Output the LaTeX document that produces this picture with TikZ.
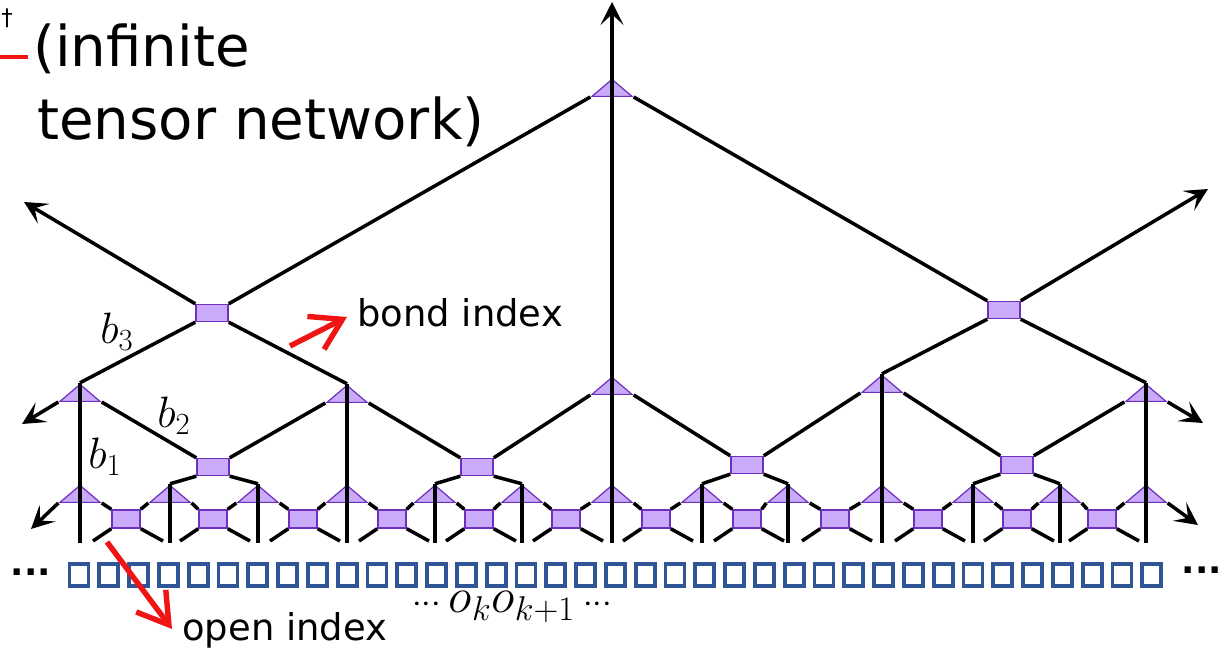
\RequirePackage{fix-cm}
\documentclass[tikz,border=0pt]{standalone}
\usepackage{fontspec}
\newfontfamily\labelfont{DejaVu Sans}
\usetikzlibrary{shapes.geometric,arrows.meta,positioning,calc}
\definecolor{tnfill}{RGB}{201,171,250}
\definecolor{tnedge}{RGB}{112,48,190}
\definecolor{openblue}{RGB}{47,85,151}
\definecolor{hintred}{RGB}{240,20,20}

\begin{document}
\begin{tikzpicture}[x=0.02cm, y=-0.02cm,
  tri/.style={isosceles triangle, isosceles triangle stretches, shape border rotate=90, draw=tnedge, fill=tnfill, line width=0.7pt, minimum width=0.8cm, minimum height=0.34cm, inner sep=0pt, anchor=south},
  sq/.style={rectangle, draw=tnedge, fill=tnfill, line width=0.8pt, minimum width=0.56cm, minimum height=0.36cm, inner sep=0pt},
  bigsq/.style={sq, minimum width=0.64cm, minimum height=0.34cm},
  leg/.style={line width=2pt},
  arrow/.style={leg, -{Stealth[length=13pt, width=13pt, inset=6pt]}},
  hint/.style={line width=3.1pt, hintred, -{Straight Barb[length=17pt, width=21pt]}},
  site/.style={rectangle, draw=openblue, line width=2.2pt, minimum width=0.38cm, minimum height=0.44cm, inner sep=0pt},
  lbl/.style={font=\labelfont\fontsize{21}{25}\selectfont, anchor=base west, inner sep=0pt},
  bnd/.style={font=\fontsize{25}{29}\selectfont, inner sep=0pt}
]
  \useasboundingbox (0,0) rectangle (1225,655);

  % bottom layer
  \foreach \x [count=\i] in {80,170,258,347,435,522,612,702,788,882,973,1060,1146} {
    \node[tri] (t0-\i) at (\x,503) {};
    \coordinate (e0-\i) at (\x,543);
  }
  \foreach \x [count=\i] in {126,213,303,392,479,566,656,747,835,928,1017,1102} {
    \node[sq] (s0-\i) at (\x,519) {};
    \coordinate (el-\i) at (\x-33,541);
    \coordinate (er-\i) at (\x+37,541);
  }

  % second layer
  \node[tri] (t1-1) at (80,402) {};
  \node[tri] (t1-2) at (347,403) {};
  \node[tri] (t1-3) at (612,395) {};
  \node[tri] (t1-4) at (882,393) {};
  \node[tri] (t1-5) at (1146,402) {};
  \node[bigsq] (s1-1) at (213,467) {};
  \node[bigsq] (s1-2) at (477,467) {};
  \node[bigsq] (s1-3) at (747,465) {};
  \node[bigsq] (s1-4) at (1017,465) {};

  % top layers
  \node[bigsq] (s2-1) at (212,313) {};
  \node[bigsq] (s2-2) at (1004,310) {};
  \node[tri] (t3) at (612,97) {};

  \coordinate (up) at (612,2);
  \coordinate (ul) at (24,202);
  \coordinate (ur) at (1208,189);
  \coordinate (ml) at (22,424);
  \coordinate (mr) at (1203,423);
  \coordinate (bl) at (31,529);
  \coordinate (br) at (1198,525);

  % legs of the bottom layer
  \foreach \i [evaluate=\i as \j using int(\i+1)] in {1,...,12} {
    \draw[leg] (t0-\i.right corner) -- (s0-\i.north west);
    \draw[leg] (s0-\i.north east) -- (t0-\j.left corner);
    \draw[leg] (s0-\i.south west) -- (el-\i);
    \draw[leg] (s0-\i.south east) -- (er-\i);
  }
  \foreach \i in {1,...,13}
    \draw[leg] (t0-\i.apex) -- (e0-\i);

  % legs of the second layer
  \draw[leg] (t1-1.apex) -- (t0-1.apex);
  \draw[leg] (t1-2.apex) -- (t0-4.apex);
  \draw[leg] (t1-3.apex) -- (t0-7.apex);
  \draw[leg] (t1-4.apex) -- (t0-10.apex);
  \draw[leg] (t1-5.apex) -- (t0-13.apex);
  \foreach \i [evaluate=\i as \j using int(\i+1), evaluate=\i as \a using int(3*\i-1), evaluate=\i as \b using int(3*\i)] in {1,...,4} {
    \draw[leg] (t1-\i.right corner) -- (s1-\i.north west);
    \draw[leg] (s1-\i.north east) -- (t1-\j.left corner);
    \draw[leg] (s1-\i.south west) -- (t0-\a.apex);
    \draw[leg] (s1-\i.south east) -- (t0-\b.apex);
  }

  % legs of the top layers
  \draw[leg] (s2-1.south west) -- (t1-1.apex);
  \draw[leg] (s2-1.south east) -- (t1-2.apex);
  \draw[leg] (s2-1.north east) -- (t3.left corner);
  \draw[leg] (t3.right corner) -- (s2-2.north west);
  \draw[leg] (s2-2.south west) -- (t1-4.apex);
  \draw[leg] (s2-2.south east) -- (t1-5.apex);
  \draw[leg] (t3.apex) -- (t1-3.apex);

  % legs going on without end
  \draw[arrow] (t3.apex) -- (up);
  \draw[arrow] (s2-1.north west) -- (ul);
  \draw[arrow] (s2-2.north east) -- (ur);
  \draw[arrow] (t1-1.left corner) -- (ml);
  \draw[arrow] (t1-5.right corner) -- (mr);
  \draw[arrow] (t0-1.left corner) -- (bl);
  \draw[arrow] (t0-13.right corner) -- (br);

  % open indices
  \foreach \i in {0,...,36}
    \node[site] (o-\i) at ({79+\i*29.8},575) {};
  \node[font=\labelfont\bfseries\fontsize{20}{24}\selectfont] (ldots) at (31,572) {...};
  \node[font=\labelfont\bfseries\fontsize{20}{24}\selectfont] (rdots) at (1202,570) {...};
  \node[font=\fontsize{28}{32}\selectfont] (ok) at (512,607) {$\scriptstyle\cdots$\,$o_k o_{k+1}$\,$\scriptstyle\cdots$};

  % labels
  \node[bnd] (b3) at (117,332) {$b_3$};
  \node[bnd] (b2) at (174,416) {$b_2$};
  \node[bnd] (b1) at (105,457) {$b_1$};
  \node[lbl] (bond) at (357,327) {bond index};
  \node[lbl] (open) at (182,640) {open index};
  \node[lbl, font=\labelfont\fontsize{32}{36}\selectfont] (title1) at (33,67) {(infinite};
  \node[lbl, font=\labelfont\fontsize{32}{36}\selectfont] (title2) at (37,140) {tensor network)};

  \coordinate (bondtail) at (290,346);
  \coordinate (bondtip) at (347,317);
  \coordinate (opentail) at (107,542);
  \coordinate (opentip) at (172,629);
  \draw[hint] (bondtail) -- (bondtip);
  \draw[hint] (opentail) -- (opentip);

  % cut-off mark at the corner
  \coordinate (cutl) at (0,57);
  \coordinate (cutr) at (28,57);
  \draw[line width=2.6pt, hintred] (cutl) -- (cutr);
  \node[font=\labelfont\fontsize{13}{15}\selectfont, inner sep=0pt] (dag) at (7,18) {†};
\end{tikzpicture}
\end{document}
